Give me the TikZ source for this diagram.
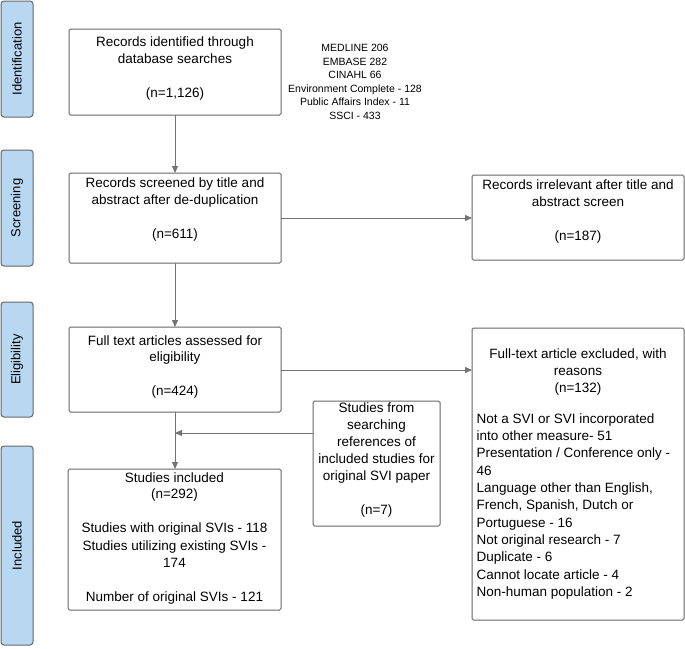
\documentclass[tikz,border=0pt]{standalone}
\usepackage{fontspec}
\setmainfont{Liberation Sans}
\usetikzlibrary{arrows.meta}
\definecolor{sidefill}{HTML}{B8D8F2}
\begin{document}
\begin{tikzpicture}[x=1pt,y=-1pt,
 side/.style={draw=black!60,fill=sidefill,rounded corners=3pt,line width=1pt},
 box/.style={draw=black!60,line width=1pt,rounded corners=1.5pt},
 lab/.style={font=\fontsize{13.5}{17}\selectfont,align=center},
 arr/.style={draw=black!55,line width=0.9pt,-{Triangle[length=7pt,width=6pt]}},
 ln/.style={draw=black!55,line width=0.9pt}]
\useasboundingbox (0,0) rectangle (685,648);
\foreach \n/\a/\b/\t in {s1/1/117/Identification,s2/150/266/Screening,s3/302/417/Eligibility,s4/446/645/Included}{
 \draw[side] (1,\a) rectangle (33,\b);
 \node[rotate=90,font=\fontsize{13}{15}\selectfont] (\n) at (17,{(\a+\b)/2}) {\t};}
\draw[box] (69,29) rectangle (281,115);
\node[lab] (b1) at (175,69) {Records identified through\\database searches\\[17pt](n=1,126)};
\node[font=\fontsize{10.5}{13.5}\selectfont,align=center] (db) at (355,82) {MEDLINE 206\\EMBASE 282\\CINAHL 66\\Environment Complete - 128\\Public Affairs Index - 11\\SSCI - 433};
\draw[box] (69,173) rectangle (281,263);
\node[lab] (b2) at (175,210) {Records screened by title and\\abstract after de-duplication\\[17pt](n=611)};
\draw[box] (472,175) rectangle (684,260);
\node[lab] (b3) at (578,212) {Records irrelevant after title and\\abstract screen\\[17pt](n=187)};
\draw[box] (69,327) rectangle (281,412);
\node[lab] (b4) at (175,367) {Full text articles assessed for\\eligibility\\[17pt](n=424)};
\draw[box] (472,328) rectangle (684,620);
\node[lab] (b5h) at (578,372) {Full-text article excluded, with\\reasons\\(n=132)};
\node[font=\fontsize{13.5}{17.3}\selectfont,align=left,anchor=north west] (b5) at (473,410) {Not a SVI or SVI incorporated\\into other measure- 51\\Presentation / Conference only -\\46\\Language other than English,\\French, Spanish, Dutch or\\Portuguese - 16\\Not original research - 7\\Duplicate - 6\\Cannot locate article - 4\\Non-human population - 2};
\draw[box] (313,401) rectangle (440,526);
\node[lab] (b6) at (376.5,460) {Studies from\\searching\\references of\\included studies for\\original SVI paper\\[17pt](n=7)};
\draw[box] (68,469) rectangle (281,610);
\node[lab] (b7) at (174.5,538) {Studies included\\(n=292)\\[17pt]Studies with original SVIs - 118\\Studies utilizing existing SVIs -\\174\\[17pt]Number of original SVIs - 121};
\coordinate (j) at (175,433);
\draw[arr] (175,115) -- (175,173);
\draw[arr] (281,218) -- (472,218);
\draw[arr] (175,263) -- (175,327);
\draw[arr] (281,370) -- (472,370);
\draw[arr] (175,412) -- (175,469);
\draw[arr] (313,433) -- (j);
\end{tikzpicture}
\end{document}
